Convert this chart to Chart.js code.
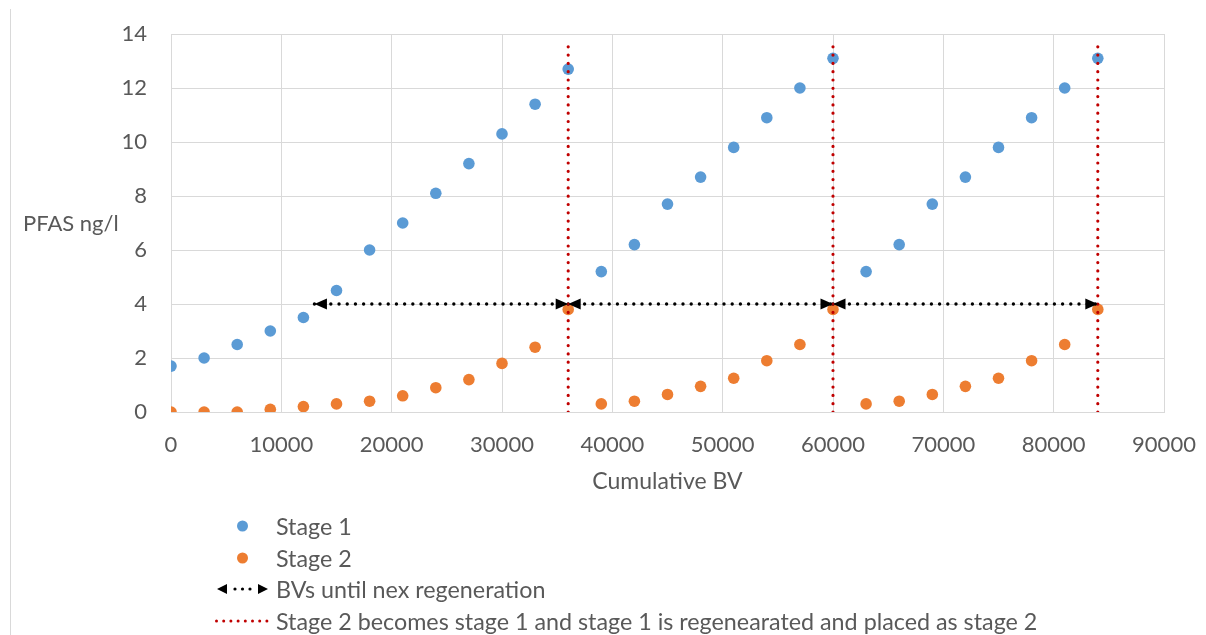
<!DOCTYPE html>
<html>
<head>
<meta charset="utf-8">
<script src="https://cdn.jsdelivr.net/npm/chart.js@4/dist/chart.umd.min.js"></script>
<style>
  html, body { margin: 0; padding: 0; background: #fff; }
  #wrap { position: relative; width: 1206px; height: 635px; }
</style>
</head>
<body>
<div id="wrap"><canvas id="mycanvas"></canvas></div>
<script>
// data
var cumulativeBV = [0, 3000, 6000, 9000, 12000, 15000, 18000, 21000, 24000, 27000, 30000, 33000, 36000,
                    39000, 42000, 45000, 48000, 51000, 54000, 57000, 60000,
                    63000, 66000, 69000, 72000, 75000, 78000, 81000, 84000];
var stage1 = [1.7, 2.0, 2.5, 3.0, 3.5, 4.5, 6.0, 7.0, 8.1, 9.2, 10.3, 11.4, 12.7,
              5.2, 6.2, 7.7, 8.7, 9.8, 10.9, 12.0, 13.1,
              5.2, 6.2, 7.7, 8.7, 9.8, 10.9, 12.0, 13.1];
var stage2 = [0, 0, 0, 0.1, 0.2, 0.3, 0.4, 0.6, 0.9, 1.2, 1.8, 2.4, 3.8,
              0.3, 0.4, 0.65, 0.95, 1.25, 1.9, 2.5, 3.8,
              0.3, 0.4, 0.65, 0.95, 1.25, 1.9, 2.5, 3.8];

// regeneration markers (red verticals) and the "BVs until next regeneration" arrows
var regenerationBV = [36000, 60000, 84000];
var regenLineTop = 13.8;
var arrowStartBV = [13000, 36000, 60000];
var arrowEndBV = [36000, 60000, 84000];
var arrowLevel = 4;

var xMin = 0, xMax = 90000, xStep = 10000;
var yMin = 0, yMax = 14, yStep = 2;

var legendLabels = ['Stage 1', 'Stage 2', 'BVs until nex regeneration',
                    'Stage 2 becomes stage 1 and stage 1 is regenearated and placed as stage 2'];
var xTitle = 'Cumulative BV';
var yTitle = 'PFAS ng/l';

var blue = '#5b9bd5';
var orange = '#ed7d31';
var red = '#c00000';
var textGray = '#595959';
var gridGray = '#d9d9d9';

Chart.defaults.font.family = 'Lato';
Chart.defaults.font.size = 22;
Chart.defaults.color = textGray;

function toPoints(xs, ys) {
    var pts = [];
    for (var i in xs) {
        pts.push({x: xs[i], y: ys[i]});
    }
    return pts;
}

var datasets = [];

// red dotted verticals on top
for (var i in regenerationBV) {
    datasets.push({
        label: 'regen' + i,
        data: [{x: regenerationBV[i], y: 0}, {x: regenerationBV[i], y: regenLineTop}],
        showLine: true,
        borderColor: red,
        borderWidth: 3.2,
        borderDash: [0, 8.3],
        borderCapStyle: 'round',
        pointRadius: 0,
        order: 0
    });
}

// black dotted arrows
for (var i in arrowStartBV) {
    datasets.push({
        label: 'arrow' + i,
        isArrow: true,
        data: [{x: arrowStartBV[i], y: arrowLevel}, {x: arrowEndBV[i], y: arrowLevel}],
        showLine: true,
        borderColor: '#000',
        borderWidth: 3.4,
        borderDash: [0, 8.2],
        borderCapStyle: 'round',
        pointRadius: 0,
        order: 1
    });
}

datasets.push({
    label: 'Stage 1',
    data: toPoints(cumulativeBV, stage1),
    backgroundColor: blue,
    borderColor: blue,
    pointRadius: 5.8,
    pointBorderWidth: 0,
    order: 2
});
datasets.push({
    label: 'Stage 2',
    data: toPoints(cumulativeBV, stage2),
    backgroundColor: orange,
    borderColor: orange,
    pointRadius: 5.8,
    pointBorderWidth: 0,
    order: 2
});

var extras = {
    id: 'extras',
    beforeDraw: function(chart) {
        var ctx = chart.ctx;
        ctx.save();
        ctx.strokeStyle = gridGray;
        ctx.lineWidth = 1;
        ctx.beginPath();
        ctx.moveTo(10.5, 9);
        ctx.lineTo(10.5, chart.height);
        ctx.stroke();
        ctx.restore();
    },
    afterDatasetsDraw: function(chart) {
        var ctx = chart.ctx;
        ctx.save();
        ctx.fillStyle = '#000';
        chart.data.datasets.forEach(function(ds, i) {
            if (!ds.isArrow) return;
            var pts = chart.getDatasetMeta(i).data;
            var a = pts[0], b = pts[pts.length - 1];
            ctx.beginPath();
            ctx.moveTo(a.x, a.y);
            ctx.lineTo(a.x + 12.5, a.y - 5.5);
            ctx.lineTo(a.x + 12.5, a.y + 5.5);
            ctx.closePath();
            ctx.fill();
            ctx.beginPath();
            ctx.moveTo(b.x, b.y);
            ctx.lineTo(b.x - 12.5, b.y - 5.5);
            ctx.lineTo(b.x - 12.5, b.y + 5.5);
            ctx.closePath();
            ctx.fill();
        });
        ctx.restore();
    },
    afterDraw: function(chart) {
        var ctx = chart.ctx;
        var area = chart.chartArea;
        ctx.save();
        ctx.fillStyle = textGray;
        ctx.textBaseline = 'middle';

        // axis titles
        ctx.font = '22px Lato';
        ctx.textAlign = 'left';
        ctx.fillText(yTitle, 23, (area.top + area.bottom) / 2 + 1);
        ctx.font = '23px Lato';
        ctx.textAlign = 'center';
        ctx.fillText(xTitle, (area.left + area.right) / 2, 482);

        // legend
        var rows = [526, 558, 589, 621];
        var textX = 276;
        ctx.textAlign = 'left';
        ctx.font = '23.3px Lato';
        for (var r in legendLabels) {
            ctx.fillStyle = textGray;
            ctx.fillText(legendLabels[r], textX, rows[r] + 1);
        }
        // dots
        ctx.fillStyle = blue;
        ctx.beginPath(); ctx.arc(242.5, rows[0], 5.5, 0, Math.PI * 2); ctx.fill();
        ctx.fillStyle = orange;
        ctx.beginPath(); ctx.arc(242.5, rows[1], 5.5, 0, Math.PI * 2); ctx.fill();
        // arrow symbol
        ctx.fillStyle = '#000';
        ctx.beginPath();
        ctx.moveTo(217, rows[2]); ctx.lineTo(227, rows[2] - 5); ctx.lineTo(227, rows[2] + 5);
        ctx.closePath(); ctx.fill();
        ctx.beginPath();
        ctx.moveTo(268, rows[2]); ctx.lineTo(258, rows[2] - 5); ctx.lineTo(258, rows[2] + 5);
        ctx.closePath(); ctx.fill();
        for (var k = 0; k < 3; k++) {
            ctx.beginPath(); ctx.arc(235 + k * 7.5, rows[2], 1.6, 0, Math.PI * 2); ctx.fill();
        }
        // red dotted symbol
        ctx.fillStyle = red;
        for (var k = 0; k < 8; k++) {
            ctx.beginPath(); ctx.arc(216.5 + k * 7.2, rows[3], 1.5, 0, Math.PI * 2); ctx.fill();
        }
        ctx.restore();
    }
};

var ctx1 = document.getElementById('mycanvas');
var scatterChart = new Chart(ctx1, {
    type: 'scatter',
    data: { datasets: datasets },
    options: {
        responsive: true,
        maintainAspectRatio: false,
        animation: false,
        layout: { padding: { left: 0, top: 34, right: 42, bottom: 0 } },
        plugins: {
            legend: { display: false },
            tooltip: { enabled: false }
        },
        scales: {
            x: {
                type: 'linear',
                min: xMin,
                max: xMax,
                ticks: { stepSize: xStep, padding: 20, maxRotation: 0, callback: function(v) { return v; } },
                grid: { color: gridGray, lineWidth: 1, drawTicks: false },
                border: { color: gridGray },
                afterFit: function(scale) {
                    scale.height = 635 - 412;
                    scale.paddingLeft = 0;
                    scale.paddingRight = 0;
                }
            },
            y: {
                min: yMin,
                max: yMax,
                ticks: { stepSize: yStep, padding: 24 },
                grid: { color: gridGray, lineWidth: 1, drawTicks: false },
                border: { color: gridGray },
                afterFit: function(scale) {
                    scale.width = 171;
                    scale.paddingTop = 0;
                    scale.paddingBottom = 0;
                }
            }
        }
    },
    plugins: [extras]
});
</script>
</body>
</html>
